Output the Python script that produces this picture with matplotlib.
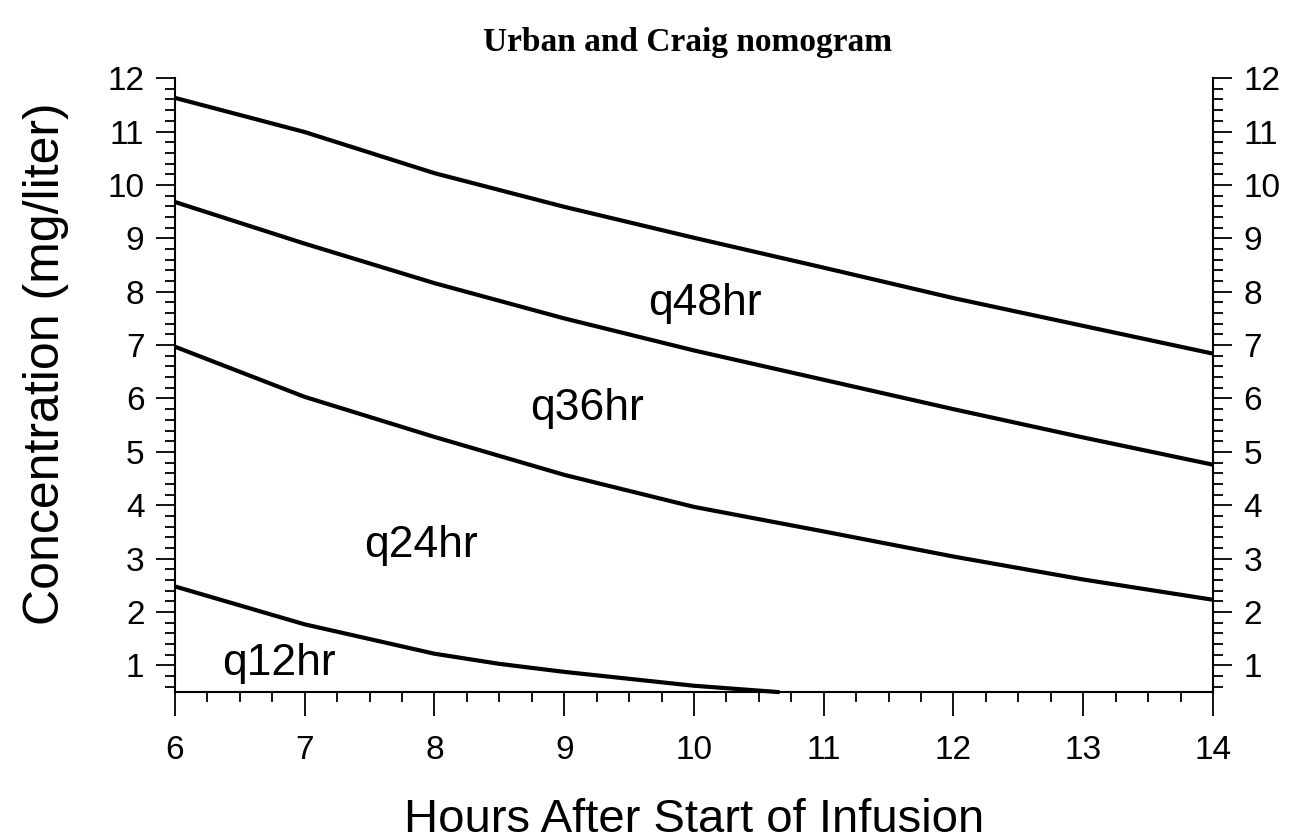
import matplotlib
matplotlib.use("Agg")
import matplotlib.pyplot as plt
from matplotlib.ticker import MultipleLocator

plt.rcParams['font.family'] = 'Liberation Sans'

# data (hours, mg/liter)
hours = [6, 7, 8, 9, 10, 11, 12, 13, 14]
line_q48 = [11.63, 10.99, 10.22, 9.59, 9.01, 8.45, 7.88, 7.36, 6.84]
line_q36 = [9.68, 8.90, 8.16, 7.50, 6.90, 6.35, 5.80, 5.27, 4.76]
line_q24 = [6.97, 6.03, 5.28, 4.57, 3.97, 3.51, 3.04, 2.61, 2.23]
hours_q12 = [6, 7, 8, 8.5, 9, 10, 10.66]
line_q12 = [2.48, 1.77, 1.22, 1.03, 0.88, 0.62, 0.50]

region_labels = ["q48hr", "q36hr", "q24hr", "q12hr"]
label_x = [9.65, 8.74, 7.46, 6.36]
label_y = [7.57, 5.60, 3.04, 0.83]

fig = plt.figure(figsize=(12.93, 8.40), dpi=100)
ax = fig.add_axes([0.1353, 0.176, 0.8028, 0.731])

for xs, ys in [(hours, line_q48), (hours, line_q36), (hours, line_q24), (hours_q12, line_q12)]:
    ax.plot(xs, ys, color='black', linewidth=3, solid_capstyle='butt', clip_on=False)

for txt, lx, ly in zip(region_labels, label_x, label_y):
    ax.text(lx, ly, txt, fontsize=32, ha='left', va='baseline')

ax.set_xlim(6, 14)
ax.set_ylim(0.5, 12)
ax.xaxis.set_major_locator(MultipleLocator(1))
ax.xaxis.set_minor_locator(MultipleLocator(0.25))
ax.yaxis.set_major_locator(MultipleLocator(1))
ax.yaxis.set_minor_locator(MultipleLocator(0.2))
ax.set_yticks(range(1, 13))

ax.spines['top'].set_visible(False)
for s in ['left', 'right', 'bottom']:
    ax.spines[s].set_linewidth(1.5)

ax.tick_params(axis='both', which='both', direction='out', width=1.3)
ax.tick_params(axis='x', which='major', length=17, pad=14, labelsize=24)
ax.tick_params(axis='x', which='minor', length=7)
ax.tick_params(axis='y', which='major', length=14, pad=8, labelsize=24,
               left=True, right=True, labelleft=True, labelright=True)
ax.tick_params(axis='y', which='minor', length=7, left=True, right=True)

ax.set_xlabel('Hours After Start of Infusion', fontsize=34)
ax.xaxis.set_label_coords(0.5, -0.172)
ax.set_ylabel('Concentration (mg/liter)', fontsize=36)
ax.yaxis.set_label_coords(-0.102, 0.535)

fig.text(0.532, 1 - 42 / 840, 'Urban and Craig nomogram', fontsize=24,
         fontweight='bold', family='Liberation Serif', ha='center', va='center')

fig.savefig('out.png', dpi=100)
